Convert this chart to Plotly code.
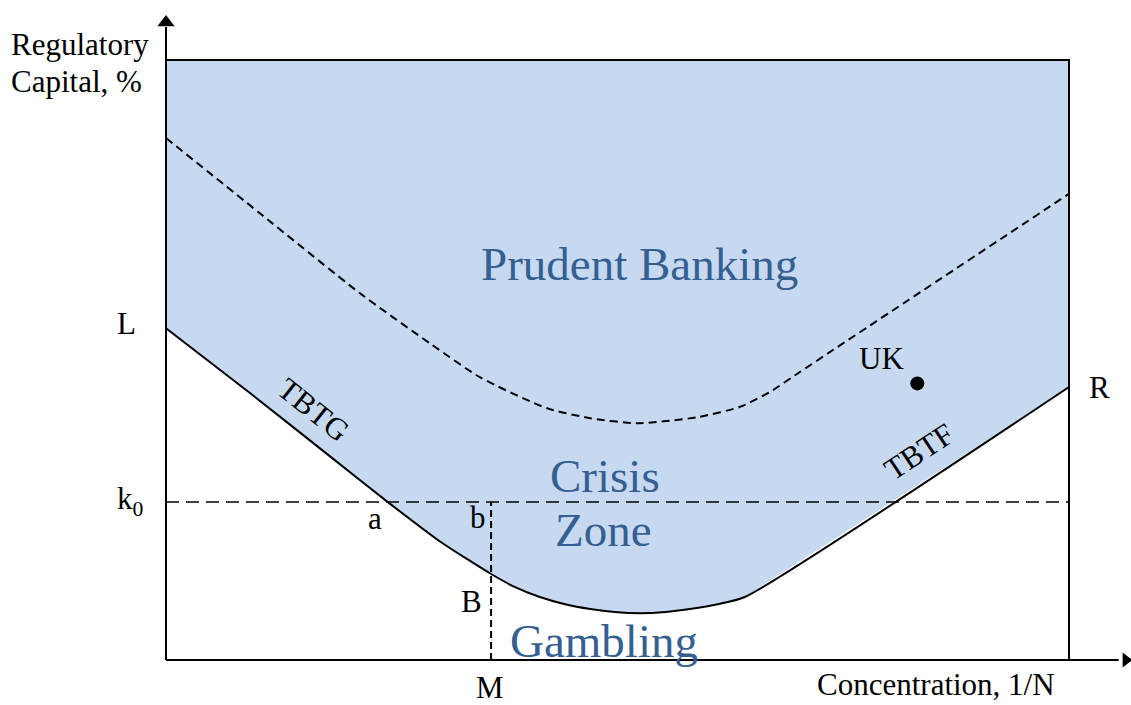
import plotly.graph_objects as go

# ---- data (conceptual units: x 0..100 = origin..right wall, y 0..100 = origin..top of box)
lower_x = [0, 9.3, 18.2, 24.5, 30.3, 36.1, 38.6, 41.4, 44.2, 47.0, 49.7, 52.5, 55.3, 58.0, 61.1, 64.1, 100]
lower_y = [55.3, 44.5, 33.9, 26.4, 19.8, 14.25, 12.2, 10.5, 9.3, 8.5, 8.0, 7.8, 8.0, 8.5, 9.3, 10.5, 45.5]

upper_x = [0, 10.4, 21.5, 29.2, 34.8, 42.2, 47.0, 52.1, 58.8, 63.6, 66.9, 70.2, 73.5, 100]
upper_y = [87.0, 74.45, 61.1, 52.8, 47.1, 41.95, 40.3, 39.45, 40.45, 42.2, 44.7, 48.0, 51.3, 77.7]

box_top = 100
box_right = 100
k0 = 26.33
M = 36.0
uk_x, uk_y = [83.2], [46.1]

region_labels = ["Prudent Banking", "Crisis", "Zone", "Gambling"]
region_x = [52.4, 48.6, 48.45, 48.5]
region_y = [66.0, 30.7, 21.6, 3.25]

# ---- figure
W, H = 1131, 705
x_range = [-18.383, 106.866]
y_range = [-7.5, 110]

FILL = "#C6D9F0"
TEXT_BLUE = "#365F91"
SERIF = "Liberation Serif"

fig = go.Figure()

# shaded region: above the lower curve up to the top of the box
poly_x = [0, box_right] + lower_x[::-1]
poly_y = [box_top, box_top] + lower_y[::-1]
fig.add_trace(go.Scatter(x=poly_x, y=poly_y, fill="toself", fillcolor=FILL,
                         mode="none", hoverinfo="skip", showlegend=False))

# k0 horizontal long-dash line
fig.add_trace(go.Scatter(x=[0, box_right], y=[k0, k0], mode="lines",
                         line=dict(color="black", width=1.5, dash="13px,7px"),
                         showlegend=False, hoverinfo="skip"))
# M vertical short-dash line
fig.add_trace(go.Scatter(x=[M, M], y=[0, k0], mode="lines",
                         line=dict(color="black", width=2, dash="7px,4px"),
                         showlegend=False, hoverinfo="skip"))
# upper dashed curve
fig.add_trace(go.Scatter(x=upper_x, y=upper_y, mode="lines",
                         line=dict(color="black", width=2, dash="8px,5px", shape="spline", smoothing=0.6),
                         showlegend=False, hoverinfo="skip"))
# lower solid boundary curve
fig.add_trace(go.Scatter(x=lower_x, y=lower_y, mode="lines",
                         line=dict(color="black", width=2, shape="spline", smoothing=0.6),
                         showlegend=False, hoverinfo="skip"))
# box top and right wall
fig.add_trace(go.Scatter(x=[0, box_right, box_right], y=[box_top, box_top, 0], mode="lines",
                         line=dict(color="black", width=2),
                         showlegend=False, hoverinfo="skip"))
# axes
fig.add_trace(go.Scatter(x=[0, 0], y=[0, 105.5], mode="lines",
                         line=dict(color="black", width=2), showlegend=False, hoverinfo="skip"))
fig.add_trace(go.Scatter(x=[0, 105.5], y=[0, 0], mode="lines",
                         line=dict(color="black", width=2), showlegend=False, hoverinfo="skip"))
# arrow heads
fig.add_trace(go.Scatter(x=[0], y=[106.25], mode="markers",
                         marker=dict(symbol="triangle-up", size=15, color="black"),
                         showlegend=False, hoverinfo="skip"))
fig.add_trace(go.Scatter(x=[106.3], y=[0], mode="markers",
                         marker=dict(symbol="triangle-right", size=13, color="black"),
                         showlegend=False, hoverinfo="skip", cliponaxis=False))
# UK point
fig.add_trace(go.Scatter(x=uk_x, y=uk_y, mode="markers",
                         marker=dict(symbol="circle", size=14, color="black"),
                         showlegend=False, hoverinfo="skip"))

annotations = []
def lab(text, x, y, size=31, color="black", angle=0, xanchor="center"):
    annotations.append(dict(text=text, x=x, y=y, xref="x", yref="y", showarrow=False,
                            xanchor=xanchor, yanchor="middle", textangle=angle,
                            font=dict(family=SERIF, size=size, color=color)))

for t, x, y in zip(region_labels, region_x, region_y):
    lab(t, x, y, size=47, color=TEXT_BLUE)

lab("Regulatory", -17.39, 102.58, xanchor="left")
lab("Capital, %", -17.39, 96.5, xanchor="left")
lab("L", -4.38, 56.08)
lab("k<sub>0</sub>", -3.93, 26.5)
lab("a", 23.2, 23.6)
lab("b", 34.55, 23.75)
lab("B", 33.85, 9.67)
lab("M", 35.9, -4.58)
lab("R", 103.4, 45.4)
lab("UK", 79.26, 50.2)
lab("Concentration, 1/N", 85.3, -4.08)
lab("TBTG", 16.3, 41.7, angle=38.5)
lab("TBTF", 83.4, 34.8, angle=-33.5)

fig.update_layout(
    width=W, height=H,
    margin=dict(l=0, r=0, t=0, b=0),
    paper_bgcolor="white", plot_bgcolor="white",
    xaxis=dict(range=x_range, visible=False, fixedrange=True),
    yaxis=dict(range=y_range, visible=False, fixedrange=True),
    annotations=annotations,
    showlegend=False,
)

fig.write_html("out.html",
               config={"displayModeBar": False},
               post_script="document.body.style.margin='0';document.body.style.overflow='hidden';")
